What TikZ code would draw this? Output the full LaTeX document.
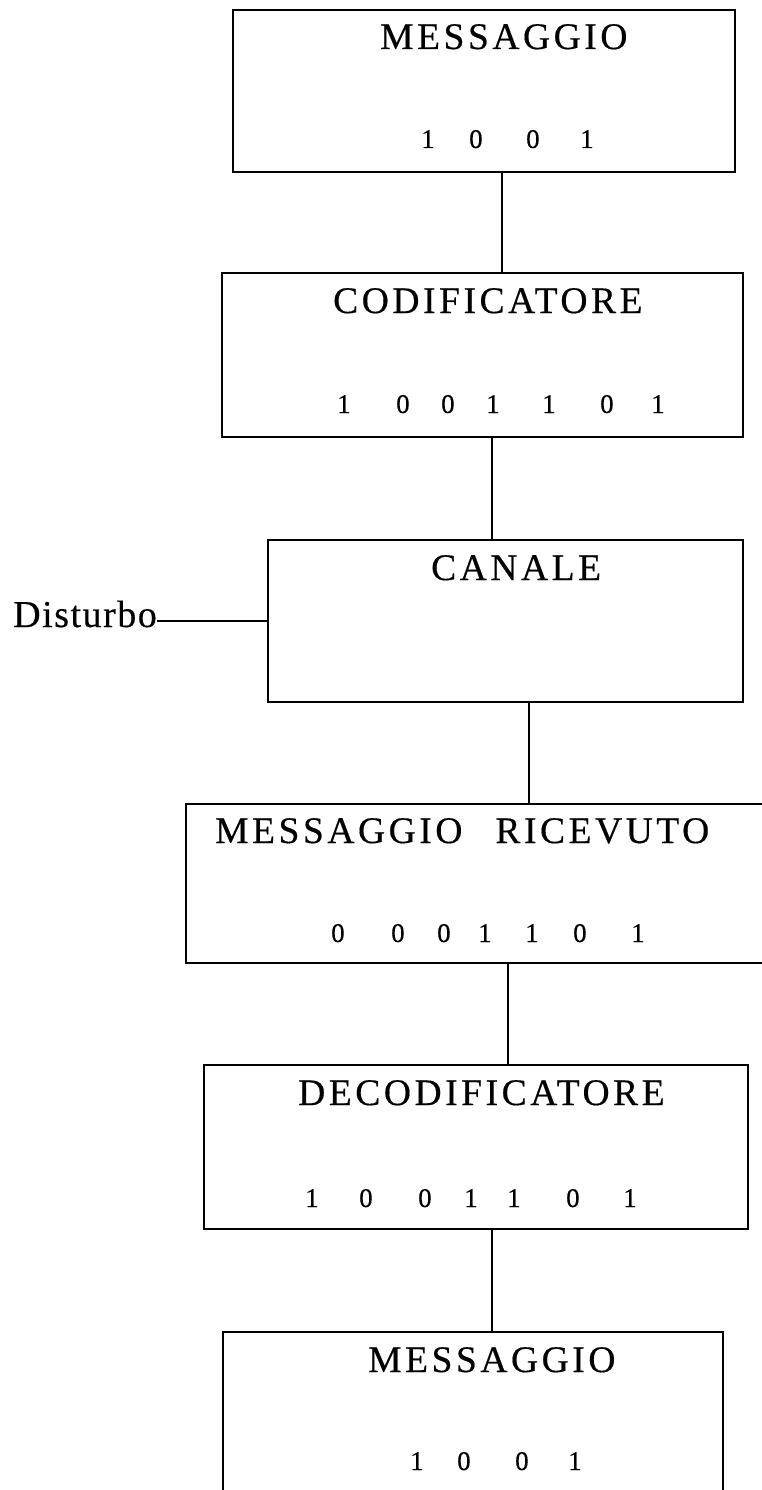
\documentclass[tikz,border=0pt]{standalone}
\usepackage{fontspec}
\setmainfont{Liberation Serif}
\newfontfamily\titlefont[LetterSpace=9.5,FakeBold=0.4]{Liberation Serif}
\newfontfamily\labelfont[LetterSpace=4,FakeBold=0.4]{Liberation Serif}
\newfontfamily\bitfont[FakeBold=0.4]{Liberation Serif}
% horizontal gap between the digits of a code word
\newcommand\bitgap[1]{\hspace*{#1pt}}

\begin{document}
\begin{tikzpicture}[x=1pt, y=-1pt,
  block/.style={draw, rectangle, line width=1.8pt, inner sep=0pt},
  link/.style={line width=1.4pt},
  title/.style={anchor=base west, inner sep=0pt,
                font=\titlefont\fontsize{37.5}{40}\selectfont},
  bits/.style={anchor=base west, inner sep=0pt,
               font=\bitfont\fontsize{27}{30}\selectfont},
  label/.style={anchor=base west, inner sep=0pt,
                font=\labelfont\fontsize{38}{40}\selectfont}]

\useasboundingbox (0,0) rectangle (762,1490);
\clip (0,0) rectangle (762,1490);

% blocks of the transmission chain
\node[block, minimum width=502pt, minimum height=162pt] (b1) at (484,91) {};
\node[block, minimum width=521pt, minimum height=164pt] (b2) at (482.5,355) {};
\node[block, minimum width=475pt, minimum height=162pt] (b3) at (505.5,621) {};
\node[block, minimum width=604pt, minimum height=159pt] (b4) at (488,883.5) {};
\node[block, minimum width=544pt, minimum height=164pt] (b5) at (476,1147) {};
\node[block, minimum width=500pt, minimum height=188pt] (b6) at (473,1426) {};

% block titles
\node[title] (t1) at (380,49)   {MESSAGGIO};
\node[title] (t2) at (333,313)  {CODIFICATORE};
\node[title] (t3) at (431,580)  {CANALE};
\node[title] (t4) at (215,843)  {MESSAGGIO\hspace*{33pt}RICEVUTO};
\node[title] (t5) at (298,1105) {DECODIFICATORE};
\node[title] (t6) at (368,1372) {MESSAGGIO};

% code words
\node[bits] (d1) at (421,148)  {1\bitgap{34.5}0\bitgap{43.5}0\bitgap{40.5}1};
\node[bits] (d2) at (337,413)  {1\bitgap{45.5}0\bitgap{31.5}0\bitgap{31.5}1\bitgap{42.5}1\bitgap{44.5}0\bitgap{37.5}1};
\node[bits] (d4) at (331,942)  {0\bitgap{46.5}0\bitgap{32.5}0\bitgap{27.5}1\bitgap{33.5}1\bitgap{34.5}0\bitgap{44.5}1};
\node[bits] (d5) at (305,1207) {1\bitgap{40.5}0\bitgap{45.5}0\bitgap{32.5}1\bitgap{29.5}1\bitgap{45.5}0\bitgap{43.5}1};
\node[bits] (d6) at (410,1470) {1\bitgap{33.5}0\bitgap{44.5}0\bitgap{39.5}1};

% noise entering the channel
\node[label] (dist) at (13,627) {Disturbo};
\draw[link] (dist.east |- b3.west) -- (b3.west);

% vertical links between blocks
\coordinate (k1) at (502,0);
\coordinate (k2) at (492,0);
\coordinate (k3) at (529,0);
\coordinate (k4) at (508,0);
\coordinate (k5) at (492,0);
\draw[link] (b1.south -| k1) -- (b2.north -| k1);
\draw[link] (b2.south -| k2) -- (b3.north -| k2);
\draw[link] (b3.south -| k3) -- (b4.north -| k3);
\draw[link] (b4.south -| k4) -- (b5.north -| k4);
\draw[link] (b5.south -| k5) -- (b6.north -| k5);
\end{tikzpicture}
\end{document}
